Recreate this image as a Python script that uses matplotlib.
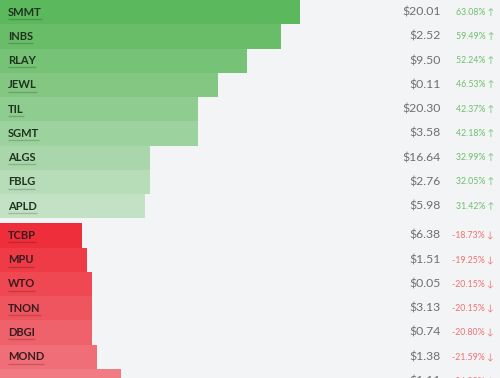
import numpy as np
import matplotlib
matplotlib.use("Agg")
import matplotlib.pyplot as plt
from matplotlib.colors import to_rgb

# ---- data ----
tickers_up = ["SMMT", "INBS", "RLAY", "JEWL", "TIL", "SGMT", "ALGS", "FBLG", "APLD"]
prices_up = [20.01, 2.52, 9.50, 0.11, 20.30, 3.58, 16.64, 2.76, 5.98]
pct_up = [63.08, 59.49, 52.24, 46.53, 42.37, 42.18, 32.99, 32.05, 31.42]

tickers_down = ["TCBP", "MPU", "WTO", "TNON", "DBGI", "MOND", ""]
prices_down = [6.38, 1.51, 0.05, 3.13, 0.74, 1.38, 1.11]
pct_down = [-18.73, -19.25, -20.15, -20.15, -20.80, -21.59, -26.09]

BG = "#f3f4f6"
GREEN = "#5cb85c"
RED = "#ee2e3a"
GREEN_TXT = "#6cbf6c"
RED_TXT = "#f07070"

fig = plt.figure(figsize=(5.0, 3.78), dpi=100, facecolor=BG)
ax = fig.add_axes([0, 0, 1, 1])
ax.set_facecolor(BG)
ax.set_axis_off()

ROW_PX = 24.25
GAP = 0.21
ax.set_xlim(5 / 4.84, 505 / 4.84)
ax.set_ylim(378 / ROW_PX, 0)

def blend(c, a):
    c = np.array(to_rgb(c)); b = np.array(to_rgb(BG))
    return tuple(b + a * (c - b))

trans = ax.get_yaxis_transform()
labels = []

def draw_group(tickers, prices, pcts, y0, base, alpha_step, txtcol, arrow, tcol):
    for i, (t, pr, pc) in enumerate(zip(tickers, prices, pcts)):
        y = y0 + i
        w = np.floor(abs(pc))
        ax.barh(y + 0.5, w, height=1.0, left=0, color=blend(base, 1 - i * alpha_step),
                edgecolor="none")
        yc = y + 0.5
        if t:
            tx = ax.text(0.016, yc, t, transform=trans, ha="left", va="center",
                         fontsize=8, fontweight="bold", family=["Lato", "DejaVu Sans"],
                         color=tcol)
            labels.append((tx, yc))
        ax.text(0.882, yc, f"${pr:.2f}", transform=trans, ha="right", va="center",
                fontsize=8.8, family=["Lato", "DejaVu Sans"], color="#6f6f6f")
        ax.text(0.988, yc, f"{pc:.2f}% {arrow}", transform=trans, ha="right", va="center",
                fontsize=6.3, family=["Lato", "DejaVu Sans"], color=txtcol)

draw_group(tickers_up, prices_up, pct_up, 0, GREEN, 0.085, GREEN_TXT, "↑", "#1f331f")
draw_group(tickers_down, prices_down, pct_down, len(tickers_up) + GAP, RED, 0.065,
           RED_TXT, "↓", "#361c1f")

# underline ticker labels
fig.canvas.draw()
r = fig.canvas.get_renderer()
inv = ax.transData.inverted()
for tx, yc in labels:
    bb = tx.get_window_extent(renderer=r)
    (x0, _), (x1, _) = inv.transform([(bb.x0, 0), (bb.x1, 0)])
    yl = yc + 6.8 / ROW_PX
    ax.plot([x0, x1], [yl, yl], color="#000000", alpha=0.18, lw=1.0,
            solid_capstyle="butt")

fig.savefig("out.png", dpi=100, facecolor=BG)
